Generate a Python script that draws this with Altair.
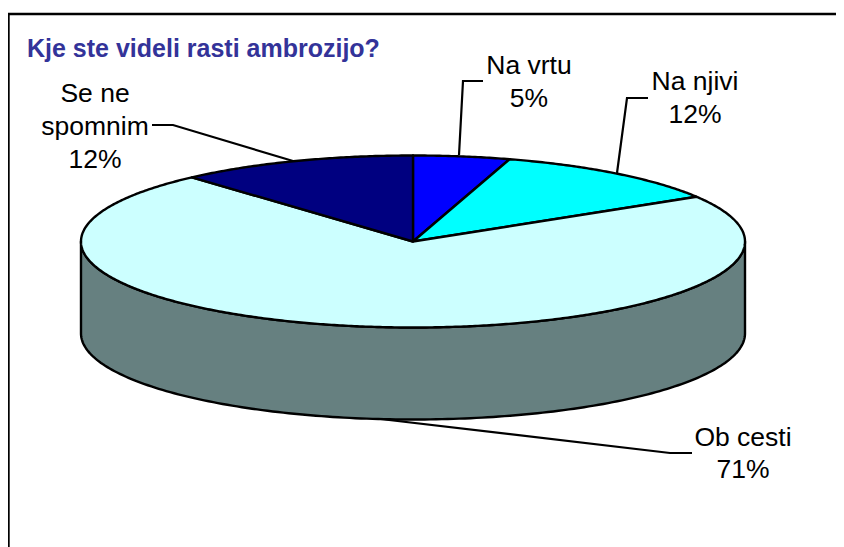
import math
import altair as alt
import pandas as pd

# Slice data (clockwise from 12 o'clock); shares as measured on the drawing
slice_names = ["Na vrtu", "Na njivi", "Ob cesti", "Se ne spomnim"]
slice_shares = [4.7, 11.6, 72.1, 11.6]
slice_colors = ["#0000FF", "#00FFFF", "#CCFFFF", "#000080"]
wall_name = "wall"
wall_color = "#668080"

# Pie geometry in page pixels
CX, CY, RX, RY, DEPTH = 413.0, 241.5, 332.0, 86.0, 92.0
W, H = 828, 539
X0, Y0 = 8, 8

title_text = ["Kje ste videli rasti ambrozijo?"]
title_x = [27]
title_y = [57]

label_lines = ["Na vrtu", "5%", "Na njivi", "12%", "Se ne", "spomnim", "12%", "Ob cesti", "71%"]
label_x = [529, 529, 695, 695, 95, 95, 95, 743, 743]
label_y = [74, 107, 90, 123, 102, 135, 168, 446, 478]

leader_ids = ["a", "a", "a", "b", "b", "b", "c", "c", "c", "d", "d", "d"]
leader_x = [483, 463, 459, 648, 627, 617, 152, 173, 293, 692, 670, 372]
leader_y = [81, 81, 155, 98, 98, 173, 125, 125, 161, 453, 453, 418]

frame_ids = ["left", "left", "top", "top"]
frame_x = [8.5, 8.5, 8, 844]
frame_y = [14, 547, 14, 14]


def rim(theta_deg, dy=0.0):
    t = math.radians(theta_deg)
    return CX + RX * math.sin(t), CY - RY * math.cos(t) + dy


rows = []
# side wall (front half of the disc, extruded downward)
pts = []
for d in range(90, 271):
    pts.append(rim(d + 0.0, DEPTH))
for d in range(270, 89, -1):
    pts.append(rim(d + 0.0))
for i, (x, y) in enumerate(pts):
    rows.append({"shape": wall_name, "x": x, "y": y, "i": i})

# top-face wedges
total = sum(slice_shares)
start = 0.0
for name, share in zip(slice_names, slice_shares):
    end = start + share / total * 360.0
    p = [(CX, CY)]
    steps = max(2, int((end - start) * 2))
    for k in range(steps + 1):
        p.append(rim(start + (end - start) * k / steps))
    p.append((CX, CY))
    for i, (x, y) in enumerate(p):
        rows.append({"shape": name, "x": x, "y": y, "i": i})
    start = end

shapes = pd.DataFrame(rows)

xs = alt.Scale(domain=[X0, X0 + W], range=[0, W], nice=False, zero=False)
ys = alt.Scale(domain=[Y0, Y0 + H], range=[0, H], nice=False, zero=False)
x_enc = alt.X("x:Q", scale=xs, axis=None)
y_enc = alt.Y("y:Q", scale=ys, axis=None)

disc = alt.Chart(shapes).mark_line(
    interpolate="linear-closed", strokeWidth=2.4, strokeJoin="round", stroke="black", clip=False
).encode(
    x=x_enc,
    y=y_enc,
    order="i:Q",
    detail="shape:N",
    fill=alt.Fill(
        "shape:N",
        scale=alt.Scale(domain=[wall_name] + slice_names, range=[wall_color] + slice_colors),
        legend=None,
    ),
)

leaders = alt.Chart(pd.DataFrame({"id": leader_ids, "x": leader_x, "y": leader_y, "i": range(len(leader_x))})).mark_line(
    color="black", strokeWidth=2.2
).encode(x=x_enc, y=y_enc, detail="id:N", order="i:Q")

frame = alt.Chart(pd.DataFrame({"id": frame_ids, "x": frame_x, "y": frame_y, "i": range(len(frame_x))})).mark_line(
    color="black", strokeWidth=2.4
).encode(x=x_enc, y=y_enc, detail="id:N", order="i:Q")

labels = alt.Chart(pd.DataFrame({"t": label_lines, "x": label_x, "y": label_y})).mark_text(
    font="Liberation Sans", fontSize=26.5, color="black", align="center", baseline="alphabetic"
).encode(x=x_enc, y=y_enc, text="t:N")

title = alt.Chart(pd.DataFrame({"t": title_text, "x": title_x, "y": title_y})).mark_text(
    font="Liberation Sans", fontSize=25, fontWeight="bold", color="#333399", align="left", baseline="alphabetic"
).encode(x=x_enc, y=y_enc, text="t:N")

chart = alt.layer(frame, leaders, disc, labels, title).properties(
    width=W, height=H, padding=0, autosize=alt.AutoSizeParams(type="none")
).configure_view(stroke=None)

chart.save("out.html", embed_options={"renderer": "svg", "actions": False})
